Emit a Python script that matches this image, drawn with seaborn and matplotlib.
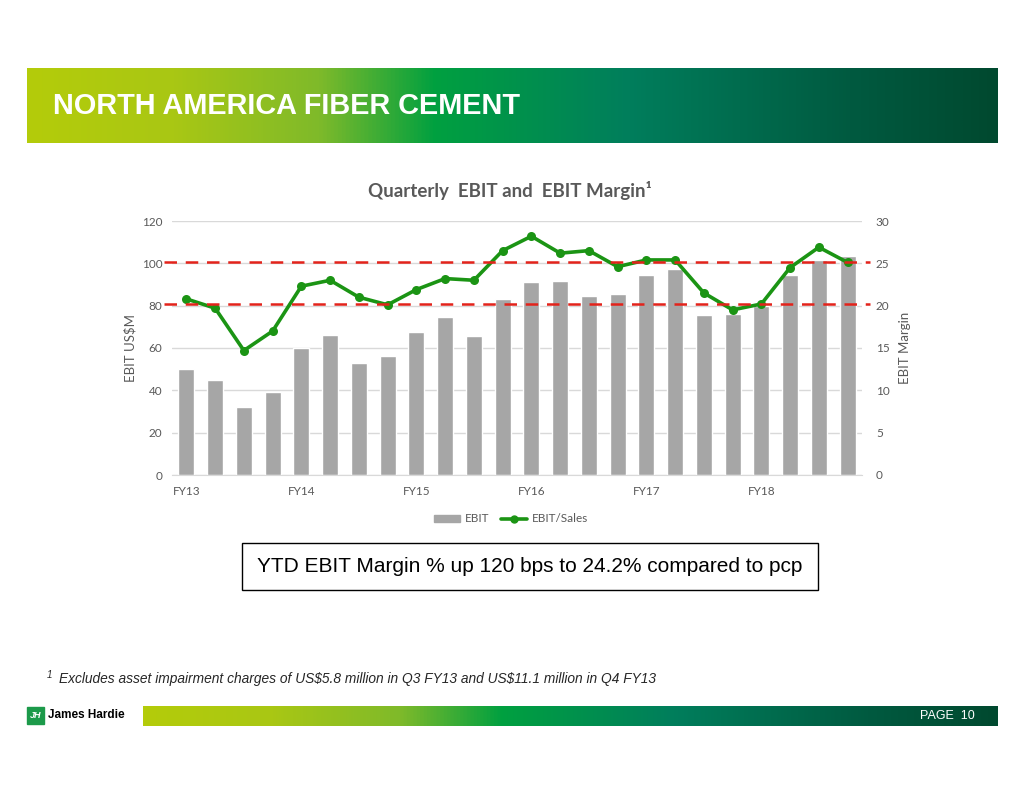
import numpy as np
import pandas as pd

import matplotlib
matplotlib.use("Agg")
import matplotlib.pyplot as plt
from matplotlib.colors import LinearSegmentedColormap
from matplotlib.patches import Rectangle
from matplotlib.lines import Line2D

import seaborn as sns


# quarterly data, Q1 FY13 .. Q4 FY18
quarters = [f"Q{q} FY{y}" for y in range(13, 19) for q in range(1, 5)]
ebit = [50, 45, 32, 39, 60, 66, 53, 56, 67.5, 74.5, 65.5, 83,
        91, 91.5, 84.5, 85.5, 94.5, 97.5, 75.5, 76, 80, 94.5, 101.5, 103.5]
ebit_margin = [20.8, 19.7, 14.7, 17.0, 22.3, 23.0, 21.0, 20.1, 21.9, 23.2, 23.0, 26.5,
               28.2, 26.2, 26.5, 24.6, 25.4, 25.4, 21.5, 19.5, 20.2, 24.5, 26.9, 25.1]
fy_labels = ["FY13", "FY14", "FY15", "FY16", "FY17", "FY18"]
target_band = [20.2, 25.2]

df = pd.DataFrame({"Quarter": quarters, "EBIT": ebit, "Margin": ebit_margin})

W, H = 1024, 791
sns.set_style("white")
plt.rcParams["font.family"] = ["Liberation Sans", "DejaVu Sans"]
LATO = ["Lato", "DejaVu Sans"]

fig = plt.figure(figsize=(W / 100, H / 100), dpi=100)

grad = LinearSegmentedColormap.from_list("jh", [
    (0.0, "#b4cc0a"), (0.15, "#a9c714"), (0.30, "#7fba2a"), (0.42, "#00a040"),
    (0.62, "#007e5c"), (0.85, "#005a40"), (1.0, "#00492f")])


def gradient_bar(x0, y0, x1, y1):
    bar_ax = fig.add_axes([x0 / W, 1 - y1 / H, (x1 - x0) / W, (y1 - y0) / H])
    bar_ax.imshow(np.linspace(0, 1, 512)[None, :], aspect="auto", cmap=grad)
    bar_ax.set_axis_off()
    return bar_ax


# header
gradient_bar(27, 68, 998, 143)
fig.text(53 / W, 1 - 106 / H, "NORTH AMERICA FIBER CEMENT", color="white",
         fontsize=20.8, fontweight="bold", va="center", ha="left")

# chart
ax = fig.add_axes([172 / W, 1 - 475 / H, 690 / W, 254 / H])
sns.barplot(data=df, x="Quarter", y="EBIT", color="#a6a6a6", width=0.55,
            saturation=1, ax=ax, zorder=2)
ax.set_ylim(0, 120)
ax.set_yticks(range(0, 121, 20))
ax.yaxis.grid(True, color="#d9d9d9", linewidth=1, zorder=0)
ax.set_axisbelow(True)
ax.set_xticks(range(0, 24, 4))
ax.set_xticklabels(fy_labels)
ax.set_xlabel("")
ax.set_ylabel("EBIT US$M", fontsize=9.5, color="#595959", labelpad=4,
              family=LATO)
for s in ["top", "right", "left"]:
    ax.spines[s].set_visible(False)
ax.spines["bottom"].set_color("#d9d9d9")
ax.tick_params(axis="y", length=0, labelsize=8.5, labelcolor="#595959", pad=7)
ax.tick_params(axis="x", length=0, labelsize=8.5, labelcolor="#595959", pad=8)
for lab in ax.get_xticklabels() + ax.get_yticklabels():
    lab.set_family(LATO)

ax2 = ax.twinx()
sns.lineplot(x=np.arange(len(quarters)), y=ebit_margin, color="#1b9414",
             linewidth=2.6, marker="o", markersize=6.5, markeredgewidth=0,
             ax=ax2, zorder=4)
ax2.set_ylim(0, 30)
ax2.set_yticks(range(0, 31, 5))
ax2.set_ylabel("EBIT Margin", fontsize=9.5, color="#595959", labelpad=7,
               family=LATO)
for s in ["top", "right", "left", "bottom"]:
    ax2.spines[s].set_visible(False)
ax2.tick_params(axis="y", length=0, labelsize=8.5, labelcolor="#595959", pad=10)
for lab in ax2.get_yticklabels():
    lab.set_family(LATO)
ax2.grid(False)
for level in target_band:
    ax2.axhline(level, xmin=-0.012, xmax=1.012, color="#e3231b", linewidth=1.8,
                dashes=(5, 3.5), clip_on=False, zorder=5)
ax.set_xlim(-0.5, 23.5)

fig.text(510 / W, 1 - 191 / H, "Quarterly  EBIT and  EBIT Margin\u00b9",
         ha="center", va="center", fontsize=13.5, fontweight="bold",
         color="#595959", family=LATO)

handles = [Rectangle((0, 0), 1, 1, color="#a6a6a6"),
           Line2D([], [], color="#1b9414", linewidth=2.6, marker="o", markersize=5)]
fig.legend(handles, ["EBIT", "EBIT/Sales"], loc="center", ncol=2,
           bbox_to_anchor=(511 / W, 1 - 519 / H), frameon=False,
           prop={"family": LATO, "size": 8.5},
           labelcolor="#595959", handlelength=2.2, handleheight=0.6,
           columnspacing=1.0, handletextpad=0.4)

# callout box
fig.patches.append(Rectangle((242 / W, 1 - 590 / H), 576 / W, 47 / H,
                             transform=fig.transFigure, fill=False,
                             edgecolor="black", linewidth=1))
fig.text(530 / W, 1 - 567 / H,
         "YTD EBIT Margin % up 120 bps to 24.2% compared to pcp",
         ha="center", va="center", fontsize=15, color="black")

# footnote
fig.text(47 / W, 1 - 675 / H, "1", fontsize=7, style="italic", va="center")
fig.text(59 / W, 1 - 679 / H,
         "Excludes asset impairment charges of US\\$5.8 million in Q3 FY13 "
         "and US\\$11.1 million in Q4 FY13",
         fontsize=9.9, style="italic", va="center")

# footer
gradient_bar(143, 706, 998, 726)
fig.text(975 / W, 1 - 716 / H, "PAGE  10", color="white", fontsize=9,
         ha="right", va="center")
fig.patches.append(Rectangle((27 / W, 1 - 724 / H), 17 / W, 17 / H,
                             transform=fig.transFigure, color="#1c9a4a"))
fig.text(35.5 / W, 1 - 715.5 / H, "JH", color="white", fontsize=6.5,
         fontweight="bold", style="italic", ha="center", va="center")
fig.text(48 / W, 1 - 715.5 / H, "James Hardie", color="black", fontsize=8.5,
         fontweight="bold", ha="left", va="center")

fig.savefig("out.png", dpi=100)
